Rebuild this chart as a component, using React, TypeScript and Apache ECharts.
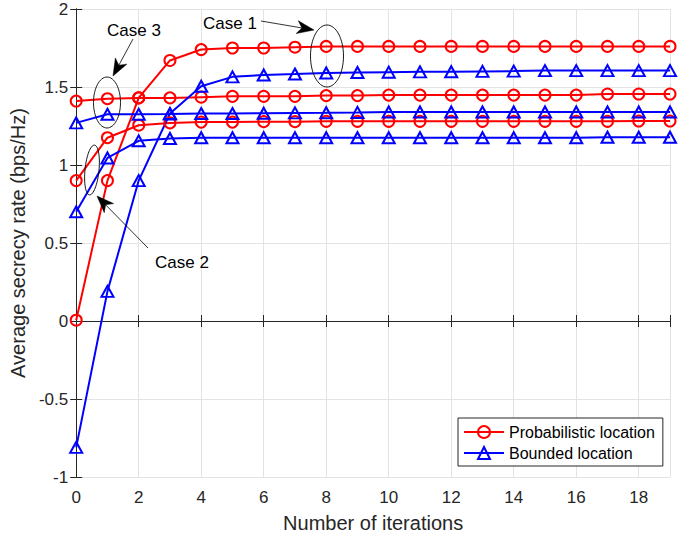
import React, { useEffect, useRef } from "react";
import * as echarts from "echarts";

const iterations = [0, 1, 2, 3, 4, 5, 6, 7, 8, 9, 10, 11, 12, 13, 14, 15, 16, 17, 18, 19];
const xTicks = [0, 2, 4, 6, 8, 10, 12, 14, 16, 18];
const yTicks = [-1, -0.5, 0, 0.5, 1, 1.5, 2];

const probCase1 = [0.005, 0.9, 1.43, 1.67, 1.74, 1.75, 1.75, 1.755, 1.76, 1.76, 1.76, 1.76, 1.76, 1.76, 1.76, 1.76, 1.76, 1.76, 1.76, 1.76];
const probCase2 = [0.9, 1.175, 1.255, 1.27, 1.275, 1.275, 1.278, 1.278, 1.28, 1.28, 1.28, 1.28, 1.28, 1.28, 1.28, 1.28, 1.28, 1.28, 1.282, 1.282];
const probCase3 = [1.41, 1.425, 1.43, 1.43, 1.435, 1.44, 1.44, 1.44, 1.445, 1.445, 1.448, 1.448, 1.448, 1.448, 1.448, 1.448, 1.448, 1.455, 1.455, 1.455];

const boundCase1 = [-0.81, 0.19, 0.9, 1.33, 1.505, 1.565, 1.577, 1.583, 1.59, 1.593, 1.595, 1.597, 1.598, 1.6, 1.602, 1.605, 1.605, 1.605, 1.605, 1.605];
const boundCase2 = [0.7, 1.045, 1.155, 1.17, 1.175, 1.175, 1.175, 1.175, 1.175, 1.175, 1.175, 1.175, 1.175, 1.175, 1.175, 1.175, 1.175, 1.178, 1.178, 1.178];
const boundCase3 = [1.27, 1.325, 1.325, 1.327, 1.33, 1.33, 1.332, 1.334, 1.335, 1.337, 1.34, 1.34, 1.34, 1.34, 1.34, 1.34, 1.34, 1.34, 1.34, 1.34];

const PROB = "Probabilistic location";
const BOUND = "Bounded location";
const FONT = '"Liberation Sans", Arial, Helvetica, sans-serif';
const AXIS_COLOR = "#262626";

function arrow(x1: number, y1: number, x2: number, y2: number) {
  const L = 17;
  const W = 6.5;
  const dx = x2 - x1;
  const dy = y2 - y1;
  const len = Math.sqrt(dx * dx + dy * dy);
  const ux = dx / len;
  const uy = dy / len;
  const px = -uy;
  const py = ux;
  const bx = x2 - ux * L;
  const by = y2 - uy * L;
  const nx = x2 - ux * L * 0.72;
  const ny = y2 - uy * L * 0.72;
  return [
    {
      type: "line",
      shape: { x1, y1, x2: nx, y2: ny },
      style: { stroke: "#000", lineWidth: 0.8 },
      z: 100,
    },
    {
      type: "polygon",
      shape: {
        points: [
          [x2, y2],
          [bx + px * W, by + py * W],
          [nx, ny],
          [bx - px * W, by - py * W],
        ],
      },
      style: { fill: "#000", stroke: "#000", lineWidth: 0.5 },
      z: 100,
    },
  ];
}

function ellipse(cx: number, cy: number, rx: number, ry: number, rotation = 0) {
  return {
    type: "ellipse",
    shape: { cx: 0, cy: 0, rx, ry },
    x: cx,
    y: cy,
    rotation,
    style: { fill: "none", stroke: "#000", lineWidth: 0.9 },
    z: 100,
  };
}

function label(text: string, x: number, y: number) {
  return {
    type: "text",
    x,
    y,
    style: {
      text,
      fontSize: 17,
      fontFamily: FONT,
      fill: "#000",
      align: "left",
      verticalAlign: "middle",
    },
    z: 100,
  };
}

function makeSeries(name: string, values: number[], kind: "prob" | "bound") {
  const color = kind === "prob" ? "#ff0000" : "#0000ff";
  return {
    name,
    type: "line",
    data: iterations.map((x, i) => [x, values[i]]),
    symbol: kind === "prob" ? "circle" : "triangle",
    symbolSize: kind === "prob" ? 11 : [12, 11],
    showAllSymbol: true,
    lineStyle: { color, width: 2 },
    itemStyle: { color: "rgba(255,255,255,0)", borderColor: color, borderWidth: 2 },
    emphasis: { disabled: true },
    z: 3,
  };
}

export default function App() {
  const ref = useRef<HTMLDivElement>(null);

  useEffect(() => {
    if (!ref.current) return;
    const chart = echarts.init(ref.current, undefined, { renderer: "svg" });

    const axisCommon = {
      type: "value" as const,
      axisLine: { show: true, lineStyle: { color: AXIS_COLOR, width: 1 } },
      axisTick: { show: true, inside: true, length: 6, lineStyle: { color: AXIS_COLOR } },
    };

    chart.setOption({
      animation: false,
      backgroundColor: "#fff",
      textStyle: { fontFamily: FONT },
      grid: { left: 76, right: 29, top: 9, bottom: 65, containLabel: false },
      legend: {
        data: [PROB, BOUND],
        orient: "vertical",
        left: 458,
        top: 418,
        itemWidth: 40,
        itemHeight: 15,
        itemGap: 5,
        padding: [6, 8, 5, 5],
        borderColor: AXIS_COLOR,
        borderWidth: 1,
        backgroundColor: "#fff",
        textStyle: { fontSize: 16, color: "#000", fontFamily: FONT },
        selectedMode: false,
      },
      xAxis: [
        {
          ...axisCommon,
          position: "bottom",
          min: 0,
          max: 19,
          interval: 2,
          name: "Number of iterations",
          nameLocation: "middle",
          nameGap: 36,
          nameTextStyle: { fontSize: 20, color: AXIS_COLOR, fontFamily: FONT },
          axisLabel: {
            fontSize: 17,
            color: AXIS_COLOR,
            margin: 12,
            fontFamily: FONT,
            formatter: (v: number) => (xTicks.includes(v) ? String(v) : ""),
          },
          splitLine: { show: true, lineStyle: { color: "#e3e3e3", width: 1 } },
        },
        {
          ...axisCommon,
          position: "top",
          min: 0,
          max: 19,
          interval: 2,
          axisLabel: { show: false },
          splitLine: { show: false },
        },
      ],
      yAxis: [
        {
          ...axisCommon,
          position: "left",
          min: -1,
          max: 2,
          interval: 0.5,
          name: "Average secrecy rate (bps/Hz)",
          nameLocation: "middle",
          nameGap: 47,
          nameTextStyle: { fontSize: 20, color: AXIS_COLOR, fontFamily: FONT },
          axisLabel: {
            fontSize: 17,
            color: AXIS_COLOR,
            margin: 8,
            fontFamily: FONT,
            formatter: (v: number) => (yTicks.includes(v) ? String(v) : ""),
          },
          splitLine: { show: true, lineStyle: { color: "#e3e3e3", width: 1 } },
        },
        {
          ...axisCommon,
          position: "right",
          min: -1,
          max: 2,
          interval: 0.5,
          axisLabel: { show: false },
          splitLine: { show: false },
        },
      ],
      series: [
        makeSeries(PROB, probCase1, "prob"),
        makeSeries(PROB, probCase2, "prob"),
        makeSeries(PROB, probCase3, "prob"),
        makeSeries(BOUND, boundCase1, "bound"),
        makeSeries(BOUND, boundCase2, "bound"),
        makeSeries(BOUND, boundCase3, "bound"),
      ],
      graphic: [
        ellipse(327, 56, 16.5, 31),
        ellipse(107, 102.5, 13.5, 25.5),
        ellipse(92, 170, 7, 25, -0.1),
        ...arrow(261, 21, 314, 30),
        ...arrow(133, 39, 113, 76),
        ...arrow(148, 248, 97, 196),
        label("Case 1", 203, 23),
        label("Case 3", 107, 30),
        label("Case 2", 155, 262),
      ],
    });

    return () => chart.dispose();
  }, []);

  return (
    <div
      ref={ref}
      style={{ position: "fixed", left: 0, top: 0, width: 699, height: 542, background: "#fff" }}
    />
  );
}
